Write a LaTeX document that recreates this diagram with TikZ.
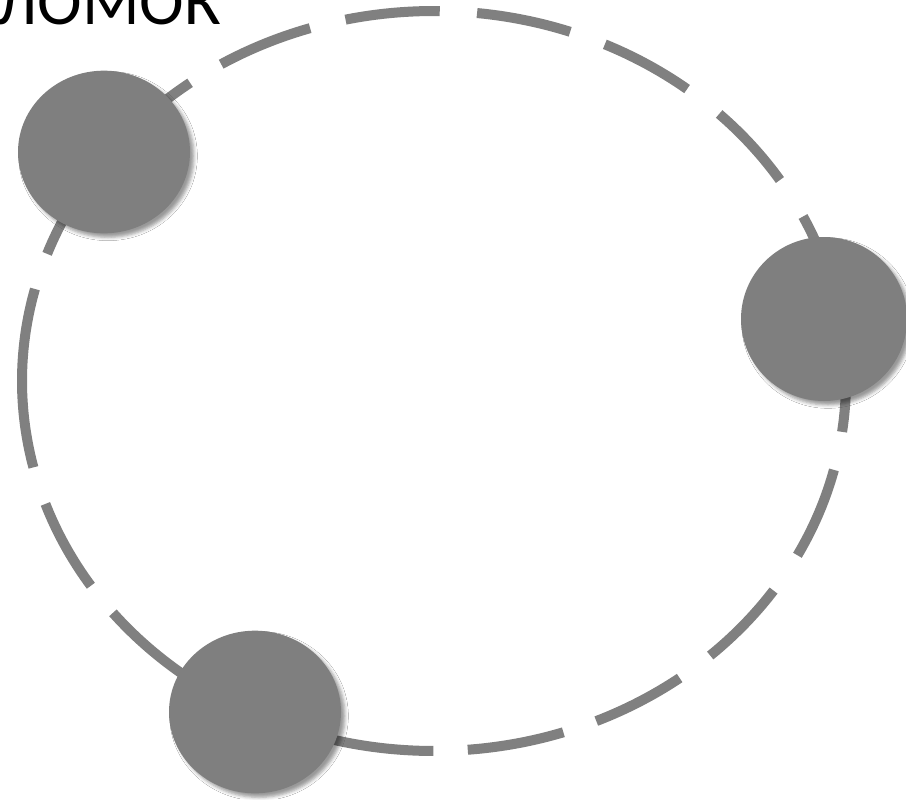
\documentclass[tikz,border=0pt]{standalone}
\usepackage{fontspec}
\setmainfont{Carlito}
\usetikzlibrary{shapes.geometric,shadows.blur}
\definecolor{ballgray}{RGB}{127,127,127}
\definecolor{ringgray}{RGB}{128,128,128}
\newcommand\ringdash[2]{\draw[ringline] plot[domain=#1:#2,samples=40] ({434+412*cos(\x)},{381+370*sin(\x)});}
\begin{document}
\begin{tikzpicture}[x=0.75pt,y=-0.75pt,
  ringline/.style={draw=ringgray,line width=7.5pt,line cap=butt},
  ball/.style={ellipse,fill=ballgray,draw=none,inner sep=0pt,
    blur shadow={shadow xshift=3pt,shadow yshift=-3pt,shadow blur radius=2.5pt,shadow opacity=40}},
  title/.style={font=\fontsize{50.5pt}{60pt}\selectfont,text=black,inner sep=0pt}]
\useasboundingbox[fill=white] (0,0) rectangle (906,799);
\node[title,anchor=base east] (t) at (221,25) {ОБЛОМОК};
\ringdash{-150}{-126.3}
\ringdash{-121.1}{-107.5}
\ringdash{-102.4}{-89.2}
\ringdash{-84.0}{-70.7}
\ringdash{-65.5}{-52.1}
\ringdash{-46.2}{-32.9}
\ringdash{-26.4}{-10}
\ringdash{-2}{7.9}
\ringdash{13.9}{28.1}
\ringdash{34.5}{47.9}
\ringdash{53.4}{66.8}
\ringdash{71.7}{85.3}
\ringdash{90.1}{110}
\ringdash{118}{141.2}
\ringdash{146.4}{160.6}
\ringdash{166.5}{194.4}
\ringdash{200.1}{215}
\node[ball,minimum width=129pt,minimum height=122pt] (a) at (104,152) {};
\node[ball,minimum width=124.5pt,minimum height=123pt] (b) at (824,319) {};
\node[ball,minimum width=129pt,minimum height=122pt] (c) at (255,712) {};
\end{tikzpicture}
\end{document}
